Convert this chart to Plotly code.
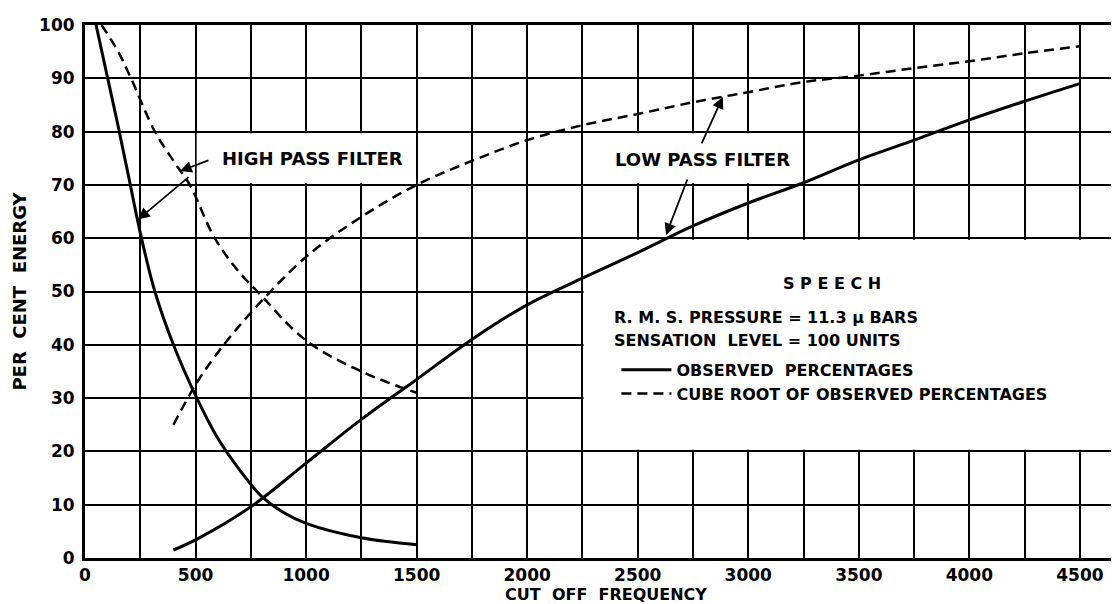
import plotly.graph_objects as go

# high pass filter, observed percentages
hp_freq = [50, 100, 150, 200, 250, 316, 400, 500, 600, 700, 800, 900, 1000, 1250, 1500]
hp_obs = [100, 90.5, 81, 71, 61, 50, 40, 30.5, 22.5, 16.5, 11.5, 8.5, 6.5, 3.8, 2.5]

# high pass filter, cube root of observed
hp_cube_freq = [75, 150, 208, 316, 400, 474, 587, 700, 780, 1000, 1250, 1500]
hp_cube = [100, 95, 90, 80, 74.5, 70, 60, 53.5, 50, 40.8, 35, 31]

# low pass filter, observed percentages
lp_freq = [400, 500, 750, 1000, 1250, 1500, 1750, 2000, 2250, 2500, 2750,
           3000, 3250, 3500, 3750, 4000, 4250, 4500]
lp_obs = [1.5, 3.4, 9.6, 17.8, 26, 33.5, 41, 47.5, 52.5, 57.3, 62.3,
          66.6, 70.4, 74.7, 78.4, 82.2, 85.7, 89]

# low pass filter, cube root of observed
lp_cube_freq = [400, 500, 600, 750, 1000, 1250, 1500, 1750, 2000, 2250, 2500, 2750,
                3000, 3250, 3500, 3750, 4000, 4250, 4500]
lp_cube = [25, 32.5, 38.5, 46, 56.5, 64, 70, 74.5, 78.4, 81.2, 83.3, 85.5,
           87.4, 89.3, 90.5, 91.9, 93.2, 94.7, 96]

FONT = "DejaVu Sans"
solid = dict(color="black", width=3, shape="spline")
dashed = dict(color="black", width=2.5, shape="spline", dash="10px,6px")

fig = go.Figure()
fig.add_trace(go.Scatter(x=hp_freq, y=hp_obs, mode="lines", line=solid,
                         name="OBSERVED  PERCENTAGES", legendrank=1))
fig.add_trace(go.Scatter(x=hp_cube_freq, y=hp_cube, mode="lines", line=dashed,
                         name="CUBE ROOT OF OBSERVED PERCENTAGES", legendrank=2))
fig.add_trace(go.Scatter(x=lp_freq, y=lp_obs, mode="lines", line=solid, showlegend=False))
fig.add_trace(go.Scatter(x=lp_cube_freq, y=lp_cube, mode="lines", line=dashed, showlegend=False))

# white label boxes that hide the grid
for x0, x1, y0, y1 in [(505, 1495, 70.3, 79.7), (2255, 3245, 70.3, 79.7), (2255, 4800, 20.3, 59.7)]:
    fig.add_shape(type="rect", x0=x0, x1=x1, y0=y0, y1=y1, fillcolor="white",
                  line_width=0, layer="between")

big = dict(family=FONT, size=18, color="black", weight="bold")
lbl = dict(family=FONT, size=16, color="black", weight="bold")
fig.add_annotation(x=1031, y=75, text="HIGH PASS FILTER", showarrow=False, font=big)
fig.add_annotation(x=2795, y=74.8, text="LOW PASS FILTER", showarrow=False, font=big)
fig.add_annotation(x=3378, y=51.5, text="S P E E C H", showarrow=False, font=lbl)
for y, t in [(45.2, "R. M. S. PRESSURE = 11.3 μ BARS"), (40.8, "SENSATION  LEVEL = 100 UNITS")]:
    fig.add_annotation(x=2385, y=y, text=t, showarrow=False, xanchor="left", font=lbl)

arr = dict(showarrow=True, arrowhead=2, arrowsize=1.3, arrowwidth=1.8, arrowcolor="black",
           axref="x", ayref="y", text="")
fig.add_annotation(x=430, y=72.6, ax=565, ay=74.7, **arr)
fig.add_annotation(x=240, y=63.5, ax=475, ay=71.7, **arr)
fig.add_annotation(x=2885, y=86.5, ax=2786, ay=77.5, **arr)
fig.add_annotation(x=2628, y=60.6, ax=2727, ay=71.3, **arr)

fig.update_layout(
    width=1119, height=604, autosize=False,
    margin=dict(l=77, r=0, t=17, b=54),
    plot_bgcolor="white", paper_bgcolor="white",
    font=dict(family=FONT, size=17, color="black", weight="bold"),
    legend=dict(x=0.51, y=0.385, xanchor="left", yanchor="top", bgcolor="rgba(0,0,0,0)",
                itemwidth=50, font=dict(size=16), tracegroupgap=0),
    xaxis=dict(
        range=[0, 4713], tickmode="linear", tick0=0, dtick=500,
        showgrid=True, gridcolor="black", gridwidth=2,
        minor=dict(dtick=250, showgrid=True, gridcolor="black", gridwidth=2),
        showline=True, linecolor="black", linewidth=3, mirror=True,
        zeroline=False, ticks="",
        title=dict(text="CUT  OFF  FREQUENCY", standoff=2, font=dict(size=16)),
    ),
    yaxis=dict(
        range=[0, 100], tickmode="linear", tick0=0, dtick=10,
        showgrid=True, gridcolor="black", gridwidth=2,
        showline=True, linecolor="black", linewidth=3,
        zeroline=False, ticks="", ticklabelstandoff=4,
        title=dict(text="PER  CENT  ENERGY", standoff=8, font=dict(size=18)),
    ),
)

fig.write_html("out.html")
